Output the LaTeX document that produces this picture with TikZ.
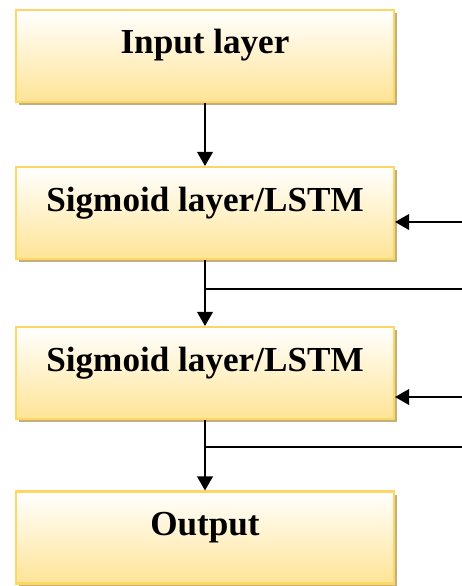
\documentclass[tikz,border=0pt]{standalone}
\usepackage{fontspec}
\setmainfont{Liberation Serif}
\usetikzlibrary{arrows.meta,shadows}
\definecolor{nngold}{RGB}{255,228,150}
\definecolor{nnborder}{RGB}{255,214,100}
\definecolor{nnshadow}{RGB}{191,176,126}

\begin{document}
\begin{tikzpicture}[
  layer/.style={draw=nnborder, line width=1.2pt, top color=white, bottom color=nngold,
    drop shadow={shadow xshift=0.06cm, shadow yshift=-0.06cm, fill=nnshadow, opacity=1},
    minimum width=7.56cm, inner sep=0pt, text height=0.88cm, text depth=0.96cm,
    font=\fontsize{20}{24}\selectfont\bfseries},
  flow/.style={line width=0.75pt, -{Triangle[length=8pt,width=9pt]}}
]
\useasboundingbox (0,0) rectangle (9.24,-11.72);

% Layer boxes
\node[layer] (input) at (4.10,-1.12) {Input layer};
\node[layer] (sig1) at (4.10,-4.26) {Sigmoid layer/LSTM};
\node[layer] (sig2) at (4.10,-7.46) {Sigmoid layer/LSTM};
\node[layer] (output) at (4.10,-10.75) {Output};

% Loose ends at the right margin
\coordinate (in1) at (9.24,-4.44);
\coordinate (br1) at (9.24,-5.78);
\coordinate (in2) at (9.24,-7.94);
\coordinate (br2) at (9.24,-8.94);

% Arrows
\draw[flow] (input) -- (sig1);
\draw[flow] (sig1) -- (sig2);
\draw[flow] (sig2) -- (output);
\draw[flow] (in1) -- (sig1.east |- in1);
\draw[flow] (in2) -- (sig2.east |- in2);
\draw[line width=0.75pt] (sig1.south |- br1) -- (br1);
\draw[line width=0.75pt] (sig2.south |- br2) -- (br2);
\end{tikzpicture}
\end{document}
